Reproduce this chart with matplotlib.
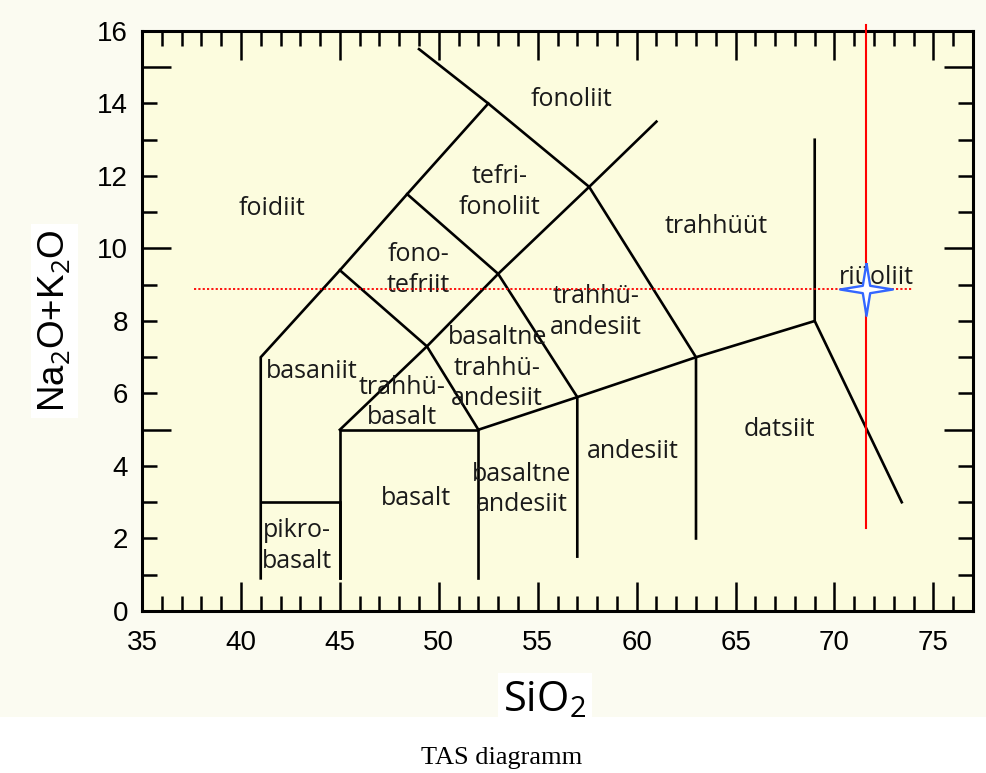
import numpy as np
import matplotlib.pyplot as plt
from matplotlib.ticker import FixedLocator, FuncFormatter
from matplotlib.path import Path
from matplotlib.patches import Rectangle

plt.rcParams['mathtext.fontset'] = 'custom'
plt.rcParams['mathtext.rm'] = 'Open Sans'

# TAS field boundaries (SiO2, Na2O+K2O), one polyline per entry
bound_x = [
    [41, 41, 45, 48.4, 52.5, 49.0],
    [41, 45, 45],
    [45, 45, 52, 52],
    [45, 49.4, 53, 57.6, 61],
    [45, 49.4, 52],
    [48.4, 53, 57, 57],
    [52.5, 57.6, 63, 63],
    [52, 57, 63, 69, 69],
    [69, 73.4],
]
bound_y = [
    [0.9, 7, 9.4, 11.5, 14, 15.5],
    [3, 3, 0.9],
    [0.9, 5, 5, 0.9],
    [5, 7.3, 9.3, 11.7, 13.5],
    [9.4, 7.3, 5],
    [11.5, 9.3, 5.9, 1.5],
    [14, 11.7, 7, 2],
    [5, 5.9, 7, 8, 13],
    [8, 3],
]

# field names and label positions
names = ['fonoliit', 'tefri-\nfonoliit', 'foidiit', 'trahhüüt', 'fono-\ntefriit',
         'riüoliit', 'trahhü-\nandesiit', 'basaniit', 'basaltne\ntrahhü-\nandesiit',
         'trahhü-\nbasalt', 'datsiit', 'andesiit', 'basalt', 'basaltne\nandesiit',
         'pikro-\nbasalt']
name_x = [56.7, 53.05, 41.55, 64.0, 48.95, 72.1, 57.95, 43.6, 52.95, 48.15,
          67.2, 59.8, 48.85, 54.2, 42.85]
name_y = [14.1, 11.55, 11.1, 10.6, 9.4, 9.2, 8.25, 6.6, 6.7, 5.75, 5.0, 4.4,
          3.1, 3.35, 1.8]

# sample point
sample_x = 71.57
sample_y = 8.88
vline_y = [2.3, 16.17]
hline_x = [37.65, 73.9]

fig = plt.figure(figsize=(9.87, 7.73), dpi=100, facecolor='white')
fig.patches.append(Rectangle((0, 0.072), 1, 0.928, transform=fig.transFigure,
                             facecolor='#FBFBF1', edgecolor='none', zorder=-10))
ax = fig.add_axes([0.1439, 0.2096, 0.8419, 0.7503])
ax.set_facecolor('#FCFCDE')
ax.set_xlim(35, 77)
ax.set_ylim(0, 16)

for bx, by in zip(bound_x, bound_y):
    ax.plot(bx, by, color='black', linewidth=1.9, solid_joinstyle='miter', zorder=3)

for t, x, y in zip(names, name_x, name_y):
    ax.text(x, y, t, ha='center', va='center', fontsize=18, family='Open Sans',
            color='#1a1a1a', linespacing=1.3, zorder=4)

ax.plot([sample_x, sample_x], vline_y, color='red', linewidth=1.5, clip_on=False, zorder=5)
ax.plot(hline_x, [sample_y, sample_y], color='red', linewidth=1.3,
        linestyle=(0, (1.2, 1.2)), zorder=5)

r = 0.14
star = Path([(0, 1), (r, r), (1, 0), (r, -r), (0, -1), (-r, -r), (-1, 0), (-r, r), (0, 1)])
ax.plot([sample_x], [sample_y], marker=star, markersize=38, markerfacecolor='white',
        markeredgecolor='#3366FF', markeredgewidth=1.7, linestyle='none', zorder=6)

# ticks
ax.xaxis.set_major_locator(FixedLocator(np.arange(35, 80, 5)))
ax.xaxis.set_minor_locator(FixedLocator([v for v in range(35, 78) if v % 5]))
ax.yaxis.set_major_locator(FixedLocator([0, 5, 10, 15]))
ax.yaxis.set_minor_locator(FixedLocator([v for v in range(1, 17) if v % 5]))
even = FuncFormatter(lambda v, p: '%d' % v if int(v) % 2 == 0 else '')
ax.yaxis.set_major_formatter(even)
ax.yaxis.set_minor_formatter(even)

ax.tick_params(which='both', direction='in', top=True, right=True, width=1.8,
               colors='black', labelsize=20)
ax.tick_params(which='major', length=21)
ax.tick_params(which='minor', length=11)
ax.tick_params(axis='x', which='both', pad=14)
ax.tick_params(axis='y', which='both', pad=10)
for lab in ax.get_xticklabels() + ax.get_yticklabels() + ax.get_yticklabels(minor=True):
    lab.set_family('Liberation Sans')
for s in ax.spines.values():
    s.set_linewidth(2.2)

ax.set_xlabel('SiO$_2$', fontsize=30, family='Open Sans',
              bbox=dict(facecolor='white', edgecolor='none', pad=4))
ax.xaxis.set_label_coords(0.485, -0.153)
ax.xaxis.label.set_va('center')
ax.set_ylabel('Na$_2$O+K$_2$O', fontsize=26.5, family='Liberation Sans',
              bbox=dict(facecolor='white', edgecolor='none', pad=4))
ax.yaxis.set_label_coords(-0.105, 0.5)
ax.yaxis.label.set_va('center')

fig.text(0.5086, 0.0194, 'TAS diagramm', ha='center', va='center', fontsize=19,
         family='Liberation Serif')

fig.savefig('out.png', dpi=100, facecolor=fig.get_facecolor())
